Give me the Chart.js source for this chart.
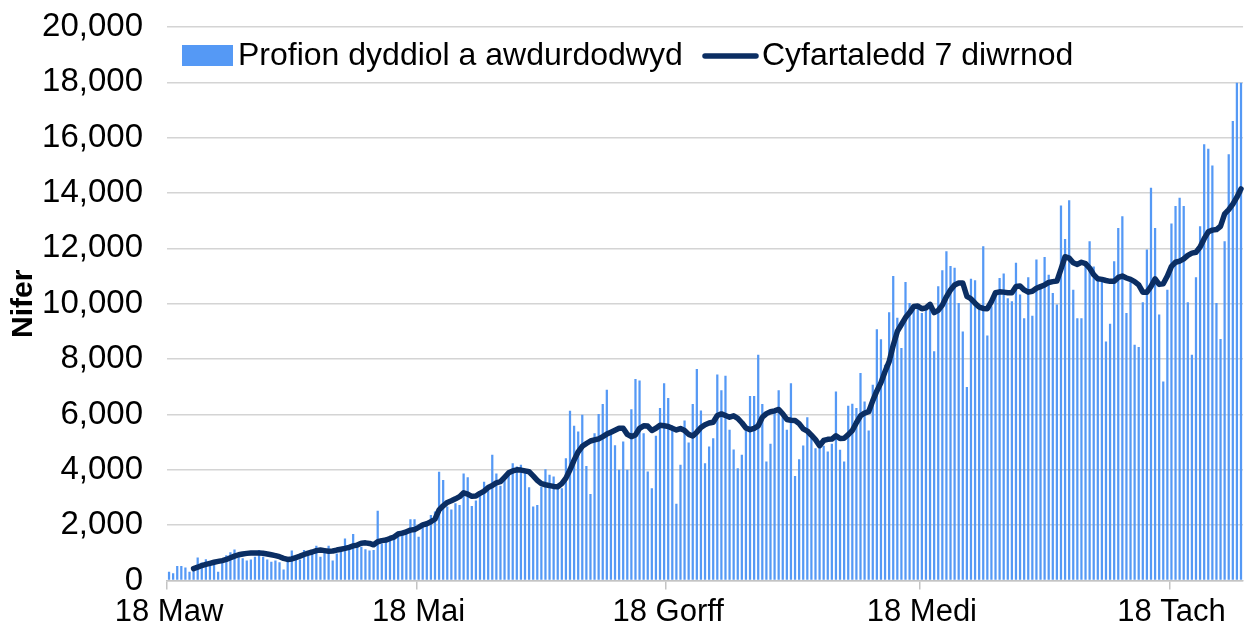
<!DOCTYPE html>
<html>
<head>
<meta charset="utf-8">
<script src="https://cdn.jsdelivr.net/npm/chart.js@4/dist/chart.umd.min.js"></script>
<style>
  body { margin: 0; background: #fff; }
  #wrap { width: 1245px; height: 630px; }
</style>
</head>
<body>
<div id="wrap"><canvas id="myChart" width="1245" height="630"></canvas></div>
<script>
// daily authorised tests, 18 Mar - 5 Dec
var dailyTests = [
  320, 260, 520, 520, 470, 320, 400, 830, 650, 770,
  640, 740, 320, 650, 910, 1020, 1120, 850, 800, 720,
  760, 860, 1100, 860, 760, 680, 720, 660, 400, 790,
  1080, 790, 760, 1100, 920, 1010, 1260, 860, 1010, 1260,
  720, 980, 1100, 1520, 1160, 1680, 1280, 1220, 1130, 1080,
  1100, 2520, 1340, 1400, 1440, 1490, 1770, 1800, 1850, 2210,
  2210, 1580, 1970, 2040, 2370, 2490, 3930, 3630, 2670, 2570,
  2790, 2730, 3870, 3730, 2690, 2890, 3150, 3570, 3390, 4540,
  3870, 3420, 3630, 3870, 4240, 4120, 4180, 3900, 3370, 2670,
  2730, 3390, 4020, 3820, 3760, 3390, 3330, 4420, 6130, 5590,
  5380, 5990, 4140, 3130, 5320, 6020, 6380, 6890, 5380, 4890,
  4000, 5020, 4000, 6190, 7280, 7230, 5320, 3940, 3330, 5230,
  6230, 7130, 6590, 5600, 2770, 4180, 5780, 4990, 6380, 7640,
  6140, 4240, 4840, 5140, 7440, 6870, 7400, 5450, 4730, 4060,
  4540, 5500, 6670, 6670, 8160, 6380, 4300, 4940, 6110, 6870,
  5990, 5450, 7130, 3780, 4380, 4880, 5900, 5230, 4780, 4840,
  4870, 4660, 4940, 6830, 4720, 4300, 6310, 6390, 6230, 7500,
  6470, 5420, 7070, 9080, 8720, 7800, 9690, 11000, 9490, 8400,
  10790, 10030, 9910, 9910, 9670, 9790, 10030, 8280, 10630, 11210,
  11900, 11360, 11300, 10030, 9000, 6990, 10900, 10850, 9790, 12080,
  8850, 9910, 10270, 10930, 11090, 10200, 10090, 11480, 10330, 9480,
  10960, 9570, 11600, 10650, 11690, 11050, 10390, 9970, 13550, 12340,
  13740, 10510, 9480, 9480, 11540, 12260, 11350, 10990, 10810, 8640,
  9280, 11540, 12740, 13160, 9670, 10780, 8520, 8440, 10050, 11960,
  14190, 12740, 9610, 7190, 10510, 12900, 13530, 13830, 13530, 10050,
  8160, 10960, 12800, 15760, 15600, 15000, 10030, 8730, 12260, 15400,
  16600, 17990, 17990
];

// 7 day average as drawn
var avg7 = [
  null, null, null, null, null, null, 430, 480, 540, 580,
  620, 660, 690, 720, 760, 820, 880, 930, 960, 980,
  990, 990, 990, 985, 960, 930, 900, 860, 800, 760,
  780, 830, 880, 940, 990, 1030, 1080, 1100, 1080, 1060,
  1065, 1100, 1130, 1160, 1200, 1250, 1280, 1350, 1360, 1340,
  1290, 1400, 1440, 1460, 1520, 1570, 1680, 1710, 1760, 1820,
  1840, 1920, 2010, 2050, 2120, 2220, 2550, 2700, 2820, 2880,
  2950, 3030, 3170, 3120, 3040, 3050, 3150, 3230, 3360, 3430,
  3530, 3570, 3730, 3890, 3960, 4000, 3990, 3960, 3930, 3780,
  3620, 3500, 3460, 3430, 3400, 3390, 3500, 3700, 4000, 4350,
  4650, 4850, 4950, 5040, 5080, 5120, 5200, 5290, 5360, 5430,
  5500, 5500, 5280, 5200, 5260, 5500, 5590, 5580, 5420, 5500,
  5610, 5590, 5565, 5500, 5440, 5490, 5420, 5280, 5220, 5360,
  5530, 5630, 5690, 5720, 5960, 6020, 5960, 5900, 5950, 5860,
  5700, 5510, 5450, 5500, 5590, 5900, 6030, 6100, 6130, 6180,
  6020, 5820, 5790, 5780, 5670, 5480, 5400, 5250, 5090, 4870,
  5060, 5100, 5110, 5230, 5130, 5140, 5270, 5420, 5700, 5950,
  6050, 6100, 6500, 6850, 7150, 7550, 7910, 8500, 9000, 9250,
  9500, 9680, 9900, 9920, 9820, 9850, 9980, 9680, 9760, 9950,
  10250, 10500, 10680, 10750, 10750, 10270, 10180, 10020, 9880, 9830,
  9820, 10080, 10400, 10430, 10420, 10400, 10400, 10620, 10640, 10500,
  10420, 10450, 10560, 10620, 10680, 10770, 10800, 10820, 11250, 11700,
  11650, 11480, 11420, 11500, 11450, 11290, 11050, 10900, 10880, 10840,
  10810, 10810, 10950, 11000, 10930, 10880, 10800, 10680, 10420, 10420,
  10630, 10900, 10700, 10720, 11000, 11350, 11500, 11540, 11620, 11750,
  11830, 11860, 12050, 12350, 12600, 12660, 12680, 12800, 13250, 13400,
  13600, 13850, 14150
];

var tickIndex = [0, 61, 122, 184, 245];
var tickLabels = ["18 Maw", "18 Mai", "18 Gorff", "18 Medi", "18 Tach"];
var yTicks = [0, 2000, 4000, 6000, 8000, 10000, 12000, 14000, 16000, 18000, 20000];

var barColor = "#5599f5";
var lineColor = "#0b2e63";
var fontFamily = "'Liberation Sans', Arial, sans-serif";

// one category per day starting 18 March
var days = [];
var d0 = new Date(2020, 2, 18);
for (var i = 0; i < dailyTests.length; i++) {
    var d = new Date(d0.getFullYear(), d0.getMonth(), d0.getDate() + i);
    days.push(d.getDate() + "/" + (d.getMonth() + 1));
}

// legend drawn inside the plot, like the original
var insideLegend = {
    id: "insideLegend",
    afterDraw: function(chart) {
        var ctx = chart.ctx;
        var ds = chart.data.datasets;
        ctx.save();
        ctx.font = "32px " + fontFamily;
        ctx.textBaseline = "middle";
        ctx.textAlign = "left";
        ctx.fillStyle = barColor;
        ctx.fillRect(182, 45, 51, 21);
        ctx.fillStyle = "#000";
        ctx.fillText(ds[0].label, 238, 56);
        ctx.strokeStyle = lineColor;
        ctx.lineWidth = 5.5;
        ctx.lineCap = "round";
        ctx.beginPath();
        ctx.moveTo(705, 56);
        ctx.lineTo(756, 56);
        ctx.stroke();
        ctx.fillText(ds[1].label, 762, 56);
        ctx.restore();
    }
};

new Chart("myChart", {
    type: "bar",
    data: {
        labels: days,
        datasets: [{
            label: "Profion dyddiol a awdurdodwyd",
            data: dailyTests,
            backgroundColor: barColor,
            barPercentage: 0.55,
            categoryPercentage: 1.0,
            order: 2
        }, {
            type: "line",
            label: "Cyfartaledd 7 diwrnod",
            data: avg7,
            borderColor: lineColor,
            borderWidth: 5.5,
            pointRadius: 0,
            tension: 0,
            borderJoinStyle: "round",
            borderCapStyle: "round",
            spanGaps: false,
            order: 1
        }]
    },
    options: {
        responsive: false,
        animation: false,
        devicePixelRatio: 1,
        layout: { padding: { top: 27, right: 0, bottom: 0, left: 0 } },
        plugins: {
            legend: { display: false },
            tooltip: { enabled: false }
        },
        scales: {
            x: {
                offset: true,
                grid: {
                    offset: true,
                    drawOnChartArea: false,
                    drawTicks: true,
                    tickLength: 9,
                    lineWidth: 1.5,
                    color: function(c) {
                        return tickIndex.indexOf(c.index) >= 0 ? "#c4c4c4" : "rgba(0,0,0,0)";
                    }
                },
                border: { display: true, color: "#c4c4c4", width: 1.5 },
                ticks: {
                    autoSkip: false,
                    maxRotation: 0,
                    minRotation: 0,
                    padding: 4,
                    color: "#000",
                    font: { size: 31, family: fontFamily },
                    callback: function(v, i) {
                        var k = tickIndex.indexOf(i);
                        return k >= 0 ? tickLabels[k] : "";
                    }
                },
                afterFit: function(s) { s.height = 49.5; }
            },
            y: {
                min: 0,
                max: 20000,
                afterBuildTicks: function(s) {
                    s.ticks = yTicks.map(function(v) { return { value: v }; });
                },
                grid: { color: "#d4d4d4", lineWidth: 1.5, drawTicks: false },
                border: { display: false },
                ticks: {
                    padding: 24,
                    color: "#000",
                    font: { size: 33, family: fontFamily },
                    callback: function(v) { return v.toLocaleString("en-US"); }
                },
                title: {
                    display: true,
                    text: "Nifer",
                    color: "#000",
                    font: { size: 30, weight: "bold", family: fontFamily },
                    padding: { top: 6, bottom: 0 }
                },
                afterFit: function(s) {
                    s.width = 167;
                    s.paddingTop = 0;
                    s.paddingBottom = 0;
                }
            }
        }
    },
    plugins: [insideLegend]
});
</script>
</body>
</html>
